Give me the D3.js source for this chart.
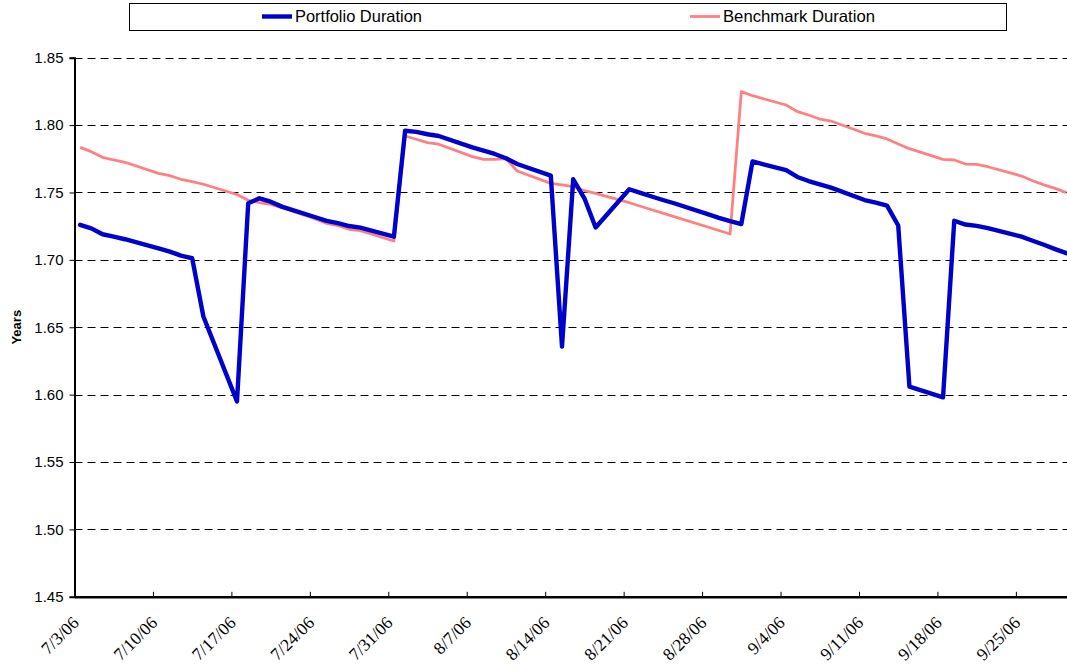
<!DOCTYPE html>
<html>
<head>
<meta charset="utf-8">
<script src="https://cdn.jsdelivr.net/npm/d3@7"></script>
<style>
  html, body { margin: 0; padding: 0; background: #fff; }
  svg { display: block; }
</style>
</head>
<body>
<svg id="chart" width="1067" height="671"></svg>
<script>
// ---------------- data ----------------
const dates = [
  "2006-07-03","2006-07-04","2006-07-05","2006-07-06","2006-07-07",
  "2006-07-10","2006-07-11","2006-07-12","2006-07-13","2006-07-14",
  "2006-07-17","2006-07-18","2006-07-19","2006-07-20","2006-07-21",
  "2006-07-24","2006-07-25","2006-07-26","2006-07-27","2006-07-28",
  "2006-07-31","2006-08-01","2006-08-02","2006-08-03","2006-08-04",
  "2006-08-07","2006-08-08","2006-08-09","2006-08-10","2006-08-11",
  "2006-08-14","2006-08-15","2006-08-16","2006-08-17","2006-08-18",
  "2006-08-21","2006-08-22","2006-08-23","2006-08-24","2006-08-25",
  "2006-08-28","2006-08-29","2006-08-30","2006-08-31","2006-09-01",
  "2006-09-04","2006-09-05","2006-09-06","2006-09-07","2006-09-08",
  "2006-09-11","2006-09-12","2006-09-13","2006-09-14","2006-09-15",
  "2006-09-18","2006-09-19","2006-09-20","2006-09-21","2006-09-22",
  "2006-09-25","2006-09-26","2006-09-27","2006-09-28","2006-09-29"
];
const portfolioDuration = [
  1.726, 1.7234, 1.719, 1.7172, 1.7153,
  1.7086, 1.7061, 1.7031, 1.7012, 1.658,
  1.595, 1.742, 1.7457, 1.7432, 1.7395,
  1.7316, 1.7289, 1.7272, 1.7251, 1.7239,
  1.7172, 1.7958, 1.795, 1.7932, 1.7919,
  1.7835, 1.781, 1.7786, 1.7754, 1.7711,
  1.7625, 1.6356, 1.7598, 1.7457, 1.724,
  1.7524, 1.7497, 1.747, 1.7444, 1.742,
  1.734, 1.7312, 1.7287, 1.7266, 1.773,
  1.7665, 1.7615, 1.7585, 1.756, 1.7536,
  1.7444, 1.7424, 1.7402, 1.7255, 1.606,
  1.598, 1.729, 1.7262, 1.7252, 1.7235,
  1.7172, 1.7142, 1.7112, 1.708, 1.705
];
const benchmarkDuration = [
  1.7835, 1.7803, 1.7761, 1.7741, 1.7724,
  1.7642, 1.7625, 1.7598, 1.758, 1.7561,
  1.7485, 1.7442, 1.7424, 1.7412, 1.7387,
  1.7303, 1.7271, 1.7254, 1.7227, 1.7217,
  1.714, 1.7919, 1.7895, 1.787, 1.7858,
  1.7766, 1.7746, 1.7746, 1.7751, 1.7659,
  1.7568, 1.7556, 1.7543, 1.7513, 1.7494,
  1.7424, 1.7398, 1.7372, 1.7347, 1.7321,
  1.7244, 1.7218, 1.7192, 1.8248, 1.8218,
  1.8149, 1.81, 1.8075, 1.8045, 1.803,
  1.7939, 1.792, 1.7897, 1.786, 1.7825,
  1.7746, 1.7741, 1.7711, 1.7709, 1.7691,
  1.7622, 1.7587, 1.7556, 1.753, 1.7499
];
const yTicks = [1.45, 1.50, 1.55, 1.60, 1.65, 1.70, 1.75, 1.80, 1.85];
const xTickLabels = ["7/3/06","7/10/06","7/17/06","7/24/06","7/31/06","8/7/06","8/14/06",
                     "8/21/06","8/28/06","9/4/06","9/11/06","9/18/06","9/25/06"];
const seriesNames = ["Portfolio Duration", "Benchmark Duration"];
const seriesColors = ["#0000CC", "#FF8080"];

// ---------------- layout ----------------
const svg = d3.select("#chart");
const parse = d3.timeParse("%Y-%m-%d");
const fmt = d3.timeFormat("%-m/%-d/%y");
const plotLeft = 74.5, plotTop = 57.7, plotBottom = 596.8;
const pxPerDay = 11.207;
const startDate = parse("2006-07-03");
const endDate = d3.timeDay.offset(parse("2006-09-29"), 1);
const plotRight = plotLeft + d3.timeDay.count(startDate, endDate) * pxPerDay;

const x = d3.scaleTime().domain([startDate, endDate]).range([plotLeft, plotRight]);
const y = d3.scaleLinear().domain([1.45, 1.85]).range([plotBottom, plotTop]);

const rows = dates.map((d, i) => ({
  date: d3.timeHour.offset(parse(d), 12),
  p: portfolioDuration[i],
  b: benchmarkDuration[i]
}));

// gridlines
svg.append("g")
  .selectAll("line")
  .data(yTicks.filter(v => v > 1.45))
  .join("line")
  .attr("x1", plotLeft).attr("x2", plotRight)
  .attr("y1", d => Math.round(y(d)) + 0.5).attr("y2", d => Math.round(y(d)) + 0.5)
  .attr("stroke", "#000").attr("stroke-width", 1)
  .attr("stroke-dasharray", "8,5");

// lines
const lineB = d3.line().x(d => x(d.date)).y(d => y(d.b));
const lineP = d3.line().x(d => x(d.date)).y(d => y(d.p));

svg.append("path").datum(rows)
  .attr("d", lineB).attr("fill", "none")
  .attr("stroke", seriesColors[1]).attr("stroke-width", 2.8)
  .attr("stroke-linejoin", "round");
svg.append("path").datum(rows)
  .attr("d", lineP).attr("fill", "none")
  .attr("stroke", seriesColors[0]).attr("stroke-width", 4.4)
  .attr("stroke-linejoin", "round").attr("stroke-linecap", "round");

// y axis
const yAxis = d3.axisLeft(y).tickValues(yTicks).tickFormat(d3.format(".2f")).tickSize(5).tickPadding(6);
const gy = svg.append("g").attr("transform", `translate(${plotLeft},0)`).call(yAxis);
gy.select(".domain").attr("stroke", "#000").attr("stroke-width", 2);
gy.selectAll(".tick line").attr("stroke", "#000");
gy.selectAll("text").attr("font-family", "Liberation Sans, Arial, sans-serif")
  .attr("font-size", 15).attr("fill", "#000");

// x axis
const xTickDates = xTickLabels.map(s => d3.timeParse("%m/%d/%y")(s));
const xAxis = d3.axisBottom(x).tickValues(xTickDates).tickFormat(fmt).tickSize(-5).tickSizeOuter(0);
const gx = svg.append("g").attr("transform", `translate(0,${plotBottom})`).call(xAxis);
gx.select(".domain").attr("stroke", "#000").attr("stroke-width", 2.5);
gx.selectAll(".tick line").attr("stroke", "#000");
gx.selectAll("text")
  .attr("font-family", "Liberation Serif, Times New Roman, serif")
  .attr("font-size", 17.5).attr("fill", "#000")
  .attr("text-anchor", "end")
  .attr("dy", null).attr("y", null)
  .attr("transform", "translate(5,27) rotate(-45)");

// y title
svg.append("text")
  .attr("transform", `translate(21,${(plotTop + plotBottom) / 2}) rotate(-90)`)
  .attr("text-anchor", "middle")
  .attr("font-family", "Liberation Sans, Arial, sans-serif")
  .attr("font-size", 13).attr("font-weight", "bold")
  .text("Years");

// legend
const lg = svg.append("g");
lg.append("rect").attr("x", 129.5).attr("y", 3.5).attr("width", 877).attr("height", 27)
  .attr("fill", "#fff").attr("stroke", "#000").attr("stroke-width", 1);
const legendX = [262, 690];
seriesNames.forEach((name, i) => {
  lg.append("line").attr("x1", legendX[i]).attr("x2", legendX[i] + 30)
    .attr("y1", 16.5).attr("y2", 16.5)
    .attr("stroke", seriesColors[i]).attr("stroke-width", i === 0 ? 4.4 : 2.8);
  lg.append("text").attr("x", legendX[i] + 33).attr("y", 22)
    .attr("font-family", "Liberation Sans, Arial, sans-serif")
    .attr("font-size", 16.5).attr("fill", "#000")
    .attr("textLength", i === 0 ? 127 : 152).attr("lengthAdjust", "spacingAndGlyphs")
    .text(name);
});
</script>
</body>
</html>
